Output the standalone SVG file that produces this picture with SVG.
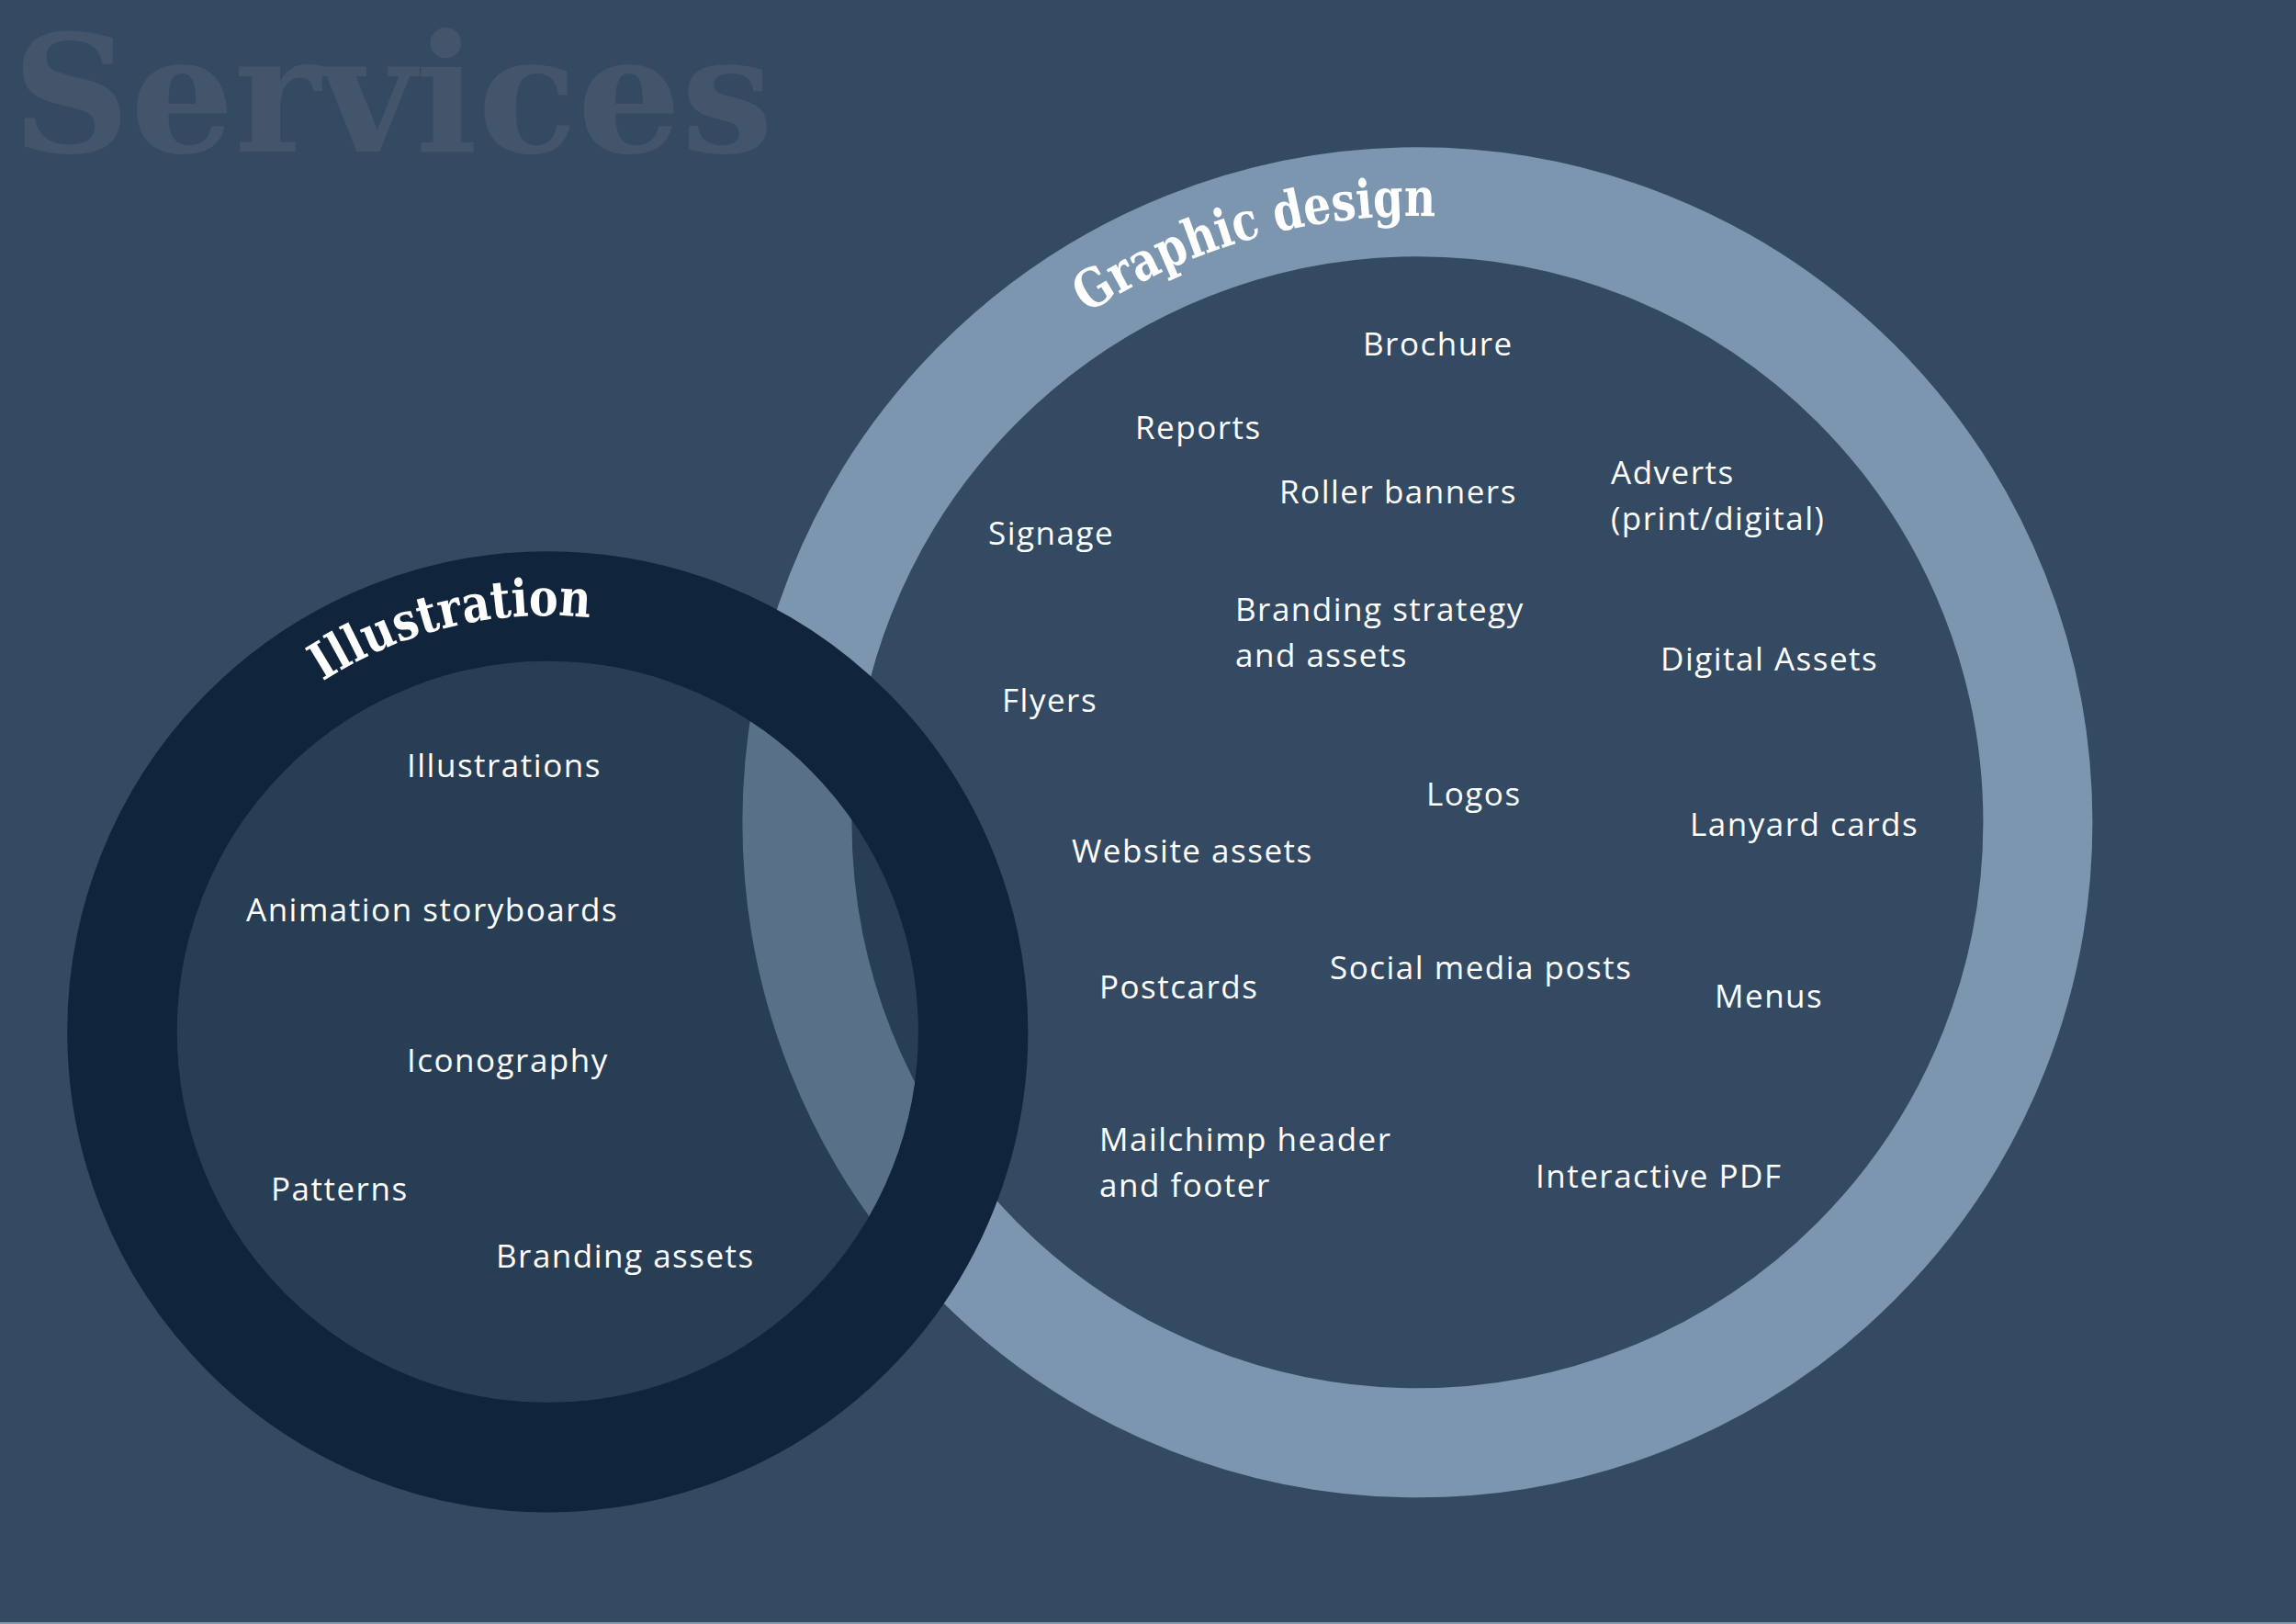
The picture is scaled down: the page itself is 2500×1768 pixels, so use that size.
<svg xmlns="http://www.w3.org/2000/svg" width="2500" height="1768" viewBox="0 0 2500 1768">
<defs>
<style>
.lbl{font-family:"Open Sans","Liberation Sans",sans-serif;font-size:35px;fill:#ffffff;letter-spacing:1.5px}
.ttl{font-family:"DejaVu Serif Condensed","DejaVu Serif",serif;font-weight:bold;fill:#ffffff}
</style>
<path id="gdArc" d="M 1183.6 341.5 A 660 660 0 0 1 1657.6 245.0"/>
<path id="ilArc" d="M 351.3 741.8 A 453 453 0 0 1 713.2 685.4"/>
</defs>
<rect x="0" y="0" width="2500" height="1768" fill="#344a62"/>
<rect x="0" y="1766" width="2500" height="2" fill="#8597ab"/>
<text x="13" y="165" font-family="DejaVu Serif Condensed, DejaVu Serif, serif" font-weight="bold" font-size="178" fill="#44556b" textLength="829" lengthAdjust="spacingAndGlyphs">Services</text>

<g id="graphic-design">
<circle cx="1543.4" cy="895.3" r="675.5" fill="none" stroke="#7b96ae" stroke-width="119"/>
<text class="ttl" font-size="58"><textPath href="#gdArc" textLength="400" lengthAdjust="spacingAndGlyphs">Graphic design</textPath></text>
</g>

<g id="illustration">
<circle cx="596.3" cy="1123.3" r="403.5" fill="#10243c" fill-opacity="0.32"/>
<circle cx="596.3" cy="1123.3" r="463.3" fill="none" stroke="#10243c" stroke-width="119.6"/>
<text class="ttl" font-size="56"><textPath href="#ilArc" textLength="305" lengthAdjust="spacingAndGlyphs">Illustration</textPath></text>
</g>

<g id="graphic-items">
<text class="lbl" x="1484" y="387">Brochure</text>
<text class="lbl" x="1236" y="478">Reports</text>
<text class="lbl" x="1393" y="548">Roller banners</text>
<text class="lbl" x="1754" y="527">Adverts</text>
<text class="lbl" x="1754" y="577">(print/digital)</text>
<text class="lbl" x="1076" y="593">Signage</text>
<text class="lbl" x="1345" y="676">Branding strategy</text>
<text class="lbl" x="1345" y="726">and assets</text>
<text class="lbl" x="1808" y="730">Digital Assets</text>
<text class="lbl" x="1091" y="775">Flyers</text>
<text class="lbl" x="1553" y="877">Logos</text>
<text class="lbl" x="1167" y="939">Website assets</text>
<text class="lbl" x="1840" y="910">Lanyard cards</text>
<text class="lbl" x="1197" y="1087">Postcards</text>
<text class="lbl" x="1448" y="1066">Social media posts</text>
<text class="lbl" x="1867" y="1097">Menus</text>
<text class="lbl" x="1197" y="1253">Mailchimp header</text>
<text class="lbl" x="1197" y="1303">and footer</text>
<text class="lbl" x="1672" y="1293">Interactive PDF</text>
</g>

<g id="illustration-items">
<text class="lbl" x="443" y="846">Illustrations</text>
<text class="lbl" x="268" y="1003">Animation storyboards</text>
<text class="lbl" x="443" y="1167">Iconography</text>
<text class="lbl" x="295" y="1307">Patterns</text>
<text class="lbl" x="540" y="1380">Branding assets</text>
</g>
<g id="connectors"/>
</svg>
